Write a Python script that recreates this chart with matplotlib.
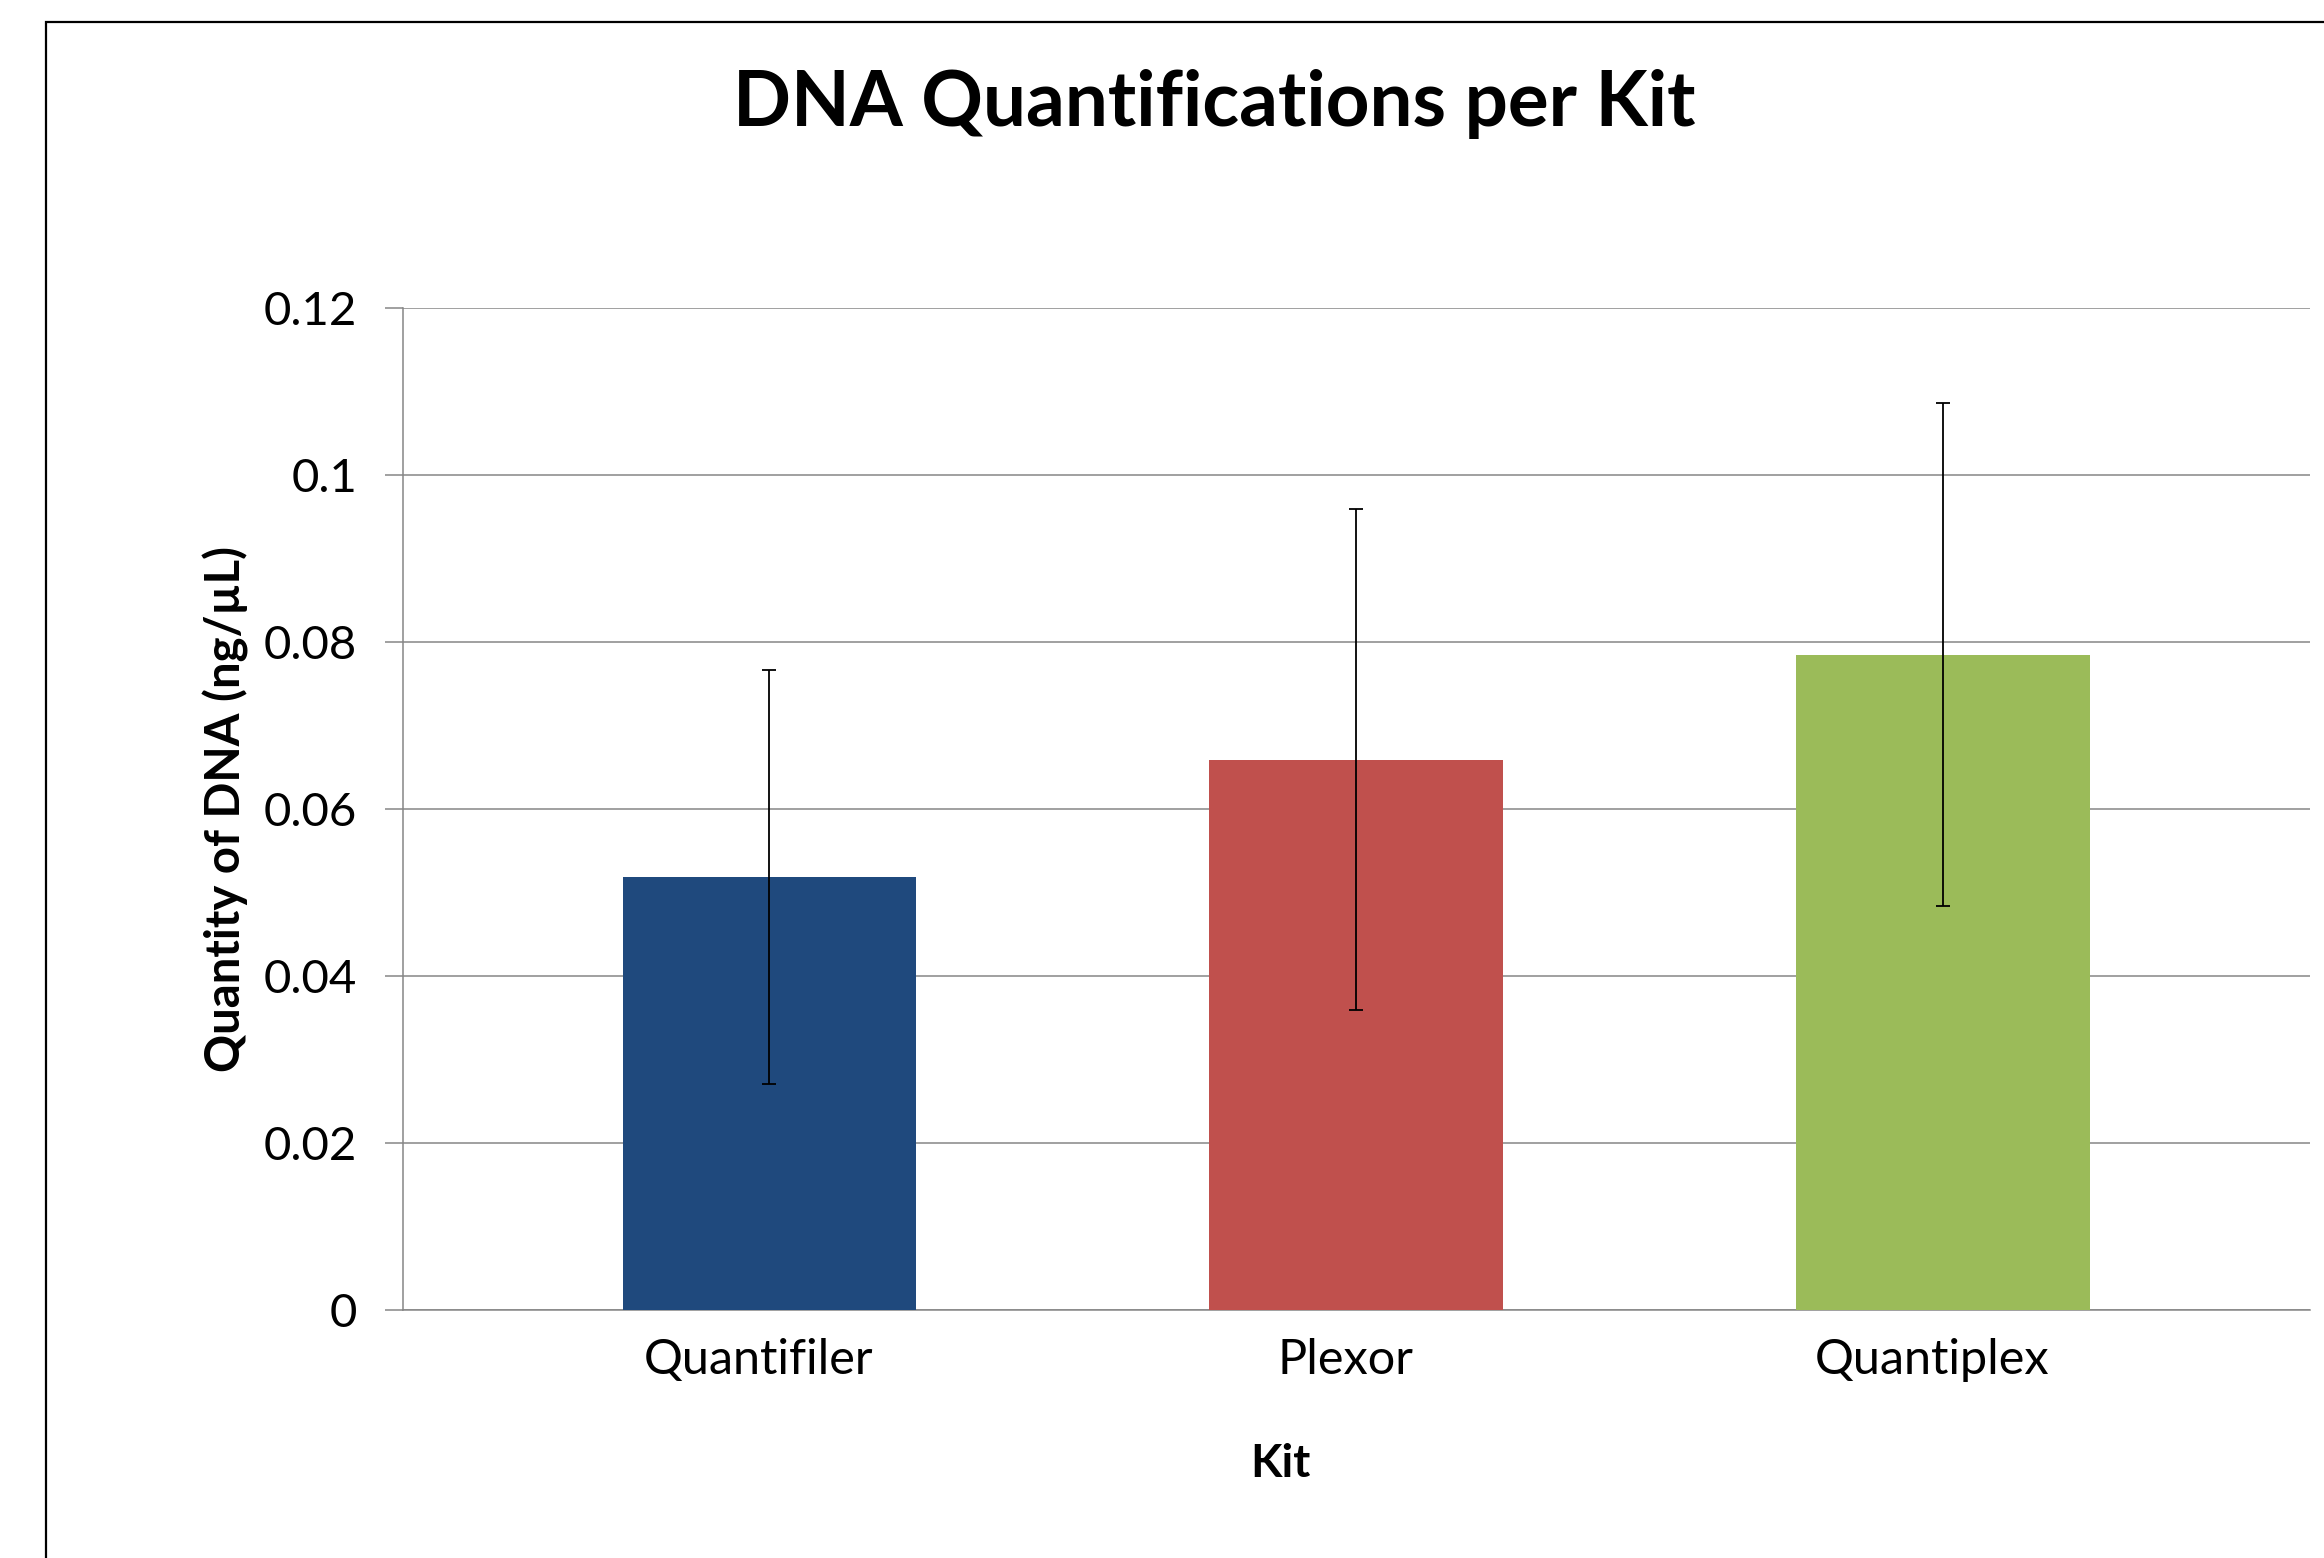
#!/usr/bin/env python3
"""DNA quantifications per kit - bar chart with error bars."""

import matplotlib
matplotlib.use("Agg")
import matplotlib.pyplot as plt
import matplotlib.transforms as mtransforms
from matplotlib.patches import Rectangle

kits = ["Quantifiler", "Plexor", "Quantiplex"]
means = [0.0519, 0.0659, 0.0785]
errors = [0.0248, 0.0300, 0.0301]
colors = ["#1F497D", "#C0504D", "#9BBB59"]
yticks = [0, 0.02, 0.04, 0.06, 0.08, 0.1, 0.12]
ytick_labels = ["0", "0.02", "0.04", "0.06", "0.08", "0.1", "0.12"]

plt.rcParams["font.family"] = ["Lato", "DejaVu Sans"]

W, H = 2324, 1558
fig = plt.figure(figsize=(W / 100, H / 100), dpi=100)

# outer chart frame (runs off the right and bottom edge)
fig.patches.append(Rectangle((46 / W, -0.1), 1.2, 1 - 22 / H + 0.1,
                             transform=fig.transFigure, fill=False,
                             edgecolor="black", linewidth=1.6))

ax = fig.add_axes([403 / W, 1 - 1310 / H, (2310 - 403) / W, (1310 - 308) / H])

x = range(len(kits))
ax.bar(x, means, width=0.5, color=colors, zorder=3)
ax.errorbar(x, means, yerr=errors, fmt="none", ecolor="black",
            elinewidth=1.3, capsize=5, capthick=1.3, zorder=4)

ax.set_ylim(0, 0.12)
ax.set_xlim(-0.624, 2.625)
ax.set_yticks(yticks)
ax.set_yticklabels(ytick_labels, fontsize=34)
ax.set_xticks(list(x))
ax.set_xticklabels(kits, fontsize=35)
ax.tick_params(axis="y", length=13, width=1.1, color="#868686", pad=20)
ax.tick_params(axis="x", length=0, pad=20)
ax.grid(axis="y", color="#868686", linewidth=1.1, zorder=0)
ax.set_axisbelow(True)

# category labels sit a little left of the bar centres in the original
shift = mtransforms.ScaledTranslation(-11 / 100, 0, fig.dpi_scale_trans)
for lbl in ax.get_xticklabels():
    lbl.set_transform(lbl.get_transform() + shift)

for side in ["top", "right"]:
    ax.spines[side].set_visible(False)
for side in ["left", "bottom"]:
    ax.spines[side].set_color("#868686")
    ax.spines[side].set_linewidth(1.1)

ax.set_xlabel("Kit", fontsize=33, fontweight="bold", va="center")
ax.xaxis.set_label_coords(0.46, -0.154)
ax.set_ylabel("Quantity of DNA (ng/µL)", fontsize=34, fontweight="bold", va="center")
ax.yaxis.set_label_coords(-0.093, 0.5)

fig.text(1214 / W, 1 - 104 / H, "DNA Quantifications per Kit",
         fontsize=55, fontweight="bold", ha="center", va="center")

fig.savefig("out.png", dpi=100)
